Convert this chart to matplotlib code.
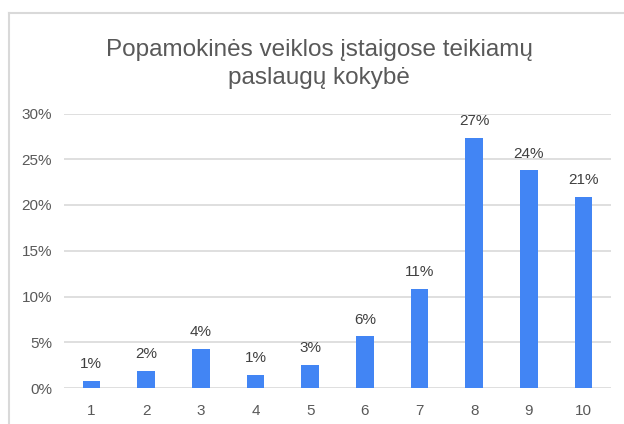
import matplotlib
matplotlib.use('Agg')
import matplotlib.pyplot as plt
from matplotlib.lines import Line2D
from matplotlib.ticker import FuncFormatter

# duomenys
categories = ['1', '2', '3', '4', '5', '6', '7', '8', '9', '10']
values = [0.77, 1.91, 4.25, 1.40, 2.49, 5.64, 10.8, 27.3, 23.8, 20.9]
labels = ['1%', '2%', '4%', '1%', '3%', '6%', '11%', '27%', '24%', '21%']
title = 'Popamokinės veiklos įstaigose teikiamų\npaslaugų kokybė'

plt.rcParams['font.family'] = ['Liberation Sans', 'DejaVu Sans']

fig = plt.figure(figsize=(6.24, 4.24), dpi=100)
ax = fig.add_axes([64 / 624, 1 - 388 / 424, 547 / 624, 274.5 / 424])

x = range(len(categories))
ax.bar(x, values, width=0.32, color='#4285f4', zorder=3)

for i, v in enumerate(values):
    ax.annotate(labels[i], (i, v), xytext=(0, 7), textcoords='offset points',
                ha='center', va='bottom', fontsize=11, color='#404040')

ax.set_xlim(-0.5, len(categories) - 0.5)
ax.set_ylim(0, 30)
ax.set_yticks([0, 5, 10, 15, 20, 25, 30])
ax.yaxis.set_major_formatter(FuncFormatter(lambda v, p: '%d%%' % v))
ax.set_xticks(list(x))
ax.set_xticklabels(categories)
ax.tick_params(axis='both', length=0, labelsize=11, labelcolor='#595959')
ax.tick_params(axis='y', pad=8.5)
ax.tick_params(axis='x', pad=11.5)

ax.grid(axis='y', color='#d9d9d9', linewidth=1.2, zorder=0)
for s in ax.spines.values():
    s.set_visible(False)

# pavadinimas (baseline = antros eilutes apacia)
fig.text(319 / 624, 1 - 84 / 424, title, ha='center', va='baseline',
         fontsize=17.5, color='#595959', linespacing=1.35)

# remelis (tik virsus ir kaire)
fig.add_artist(Line2D([9 / 624, 1], [1 - 13 / 424, 1 - 13 / 424],
                      transform=fig.transFigure, color='#d9d9d9', linewidth=1.5))
fig.add_artist(Line2D([9 / 624, 9 / 624], [0, 1 - 13 / 424],
                      transform=fig.transFigure, color='#d9d9d9', linewidth=1.5))

plt.savefig('out.png', dpi=100)
